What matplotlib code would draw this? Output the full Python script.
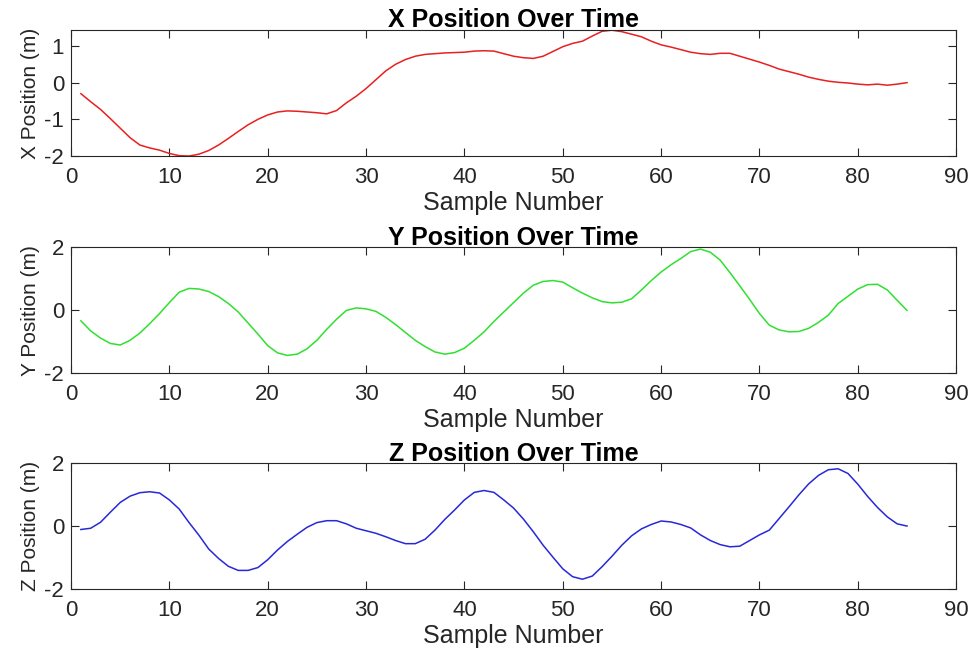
import numpy as np
import matplotlib
matplotlib.use('Agg')
import matplotlib.pyplot as plt

samples = np.arange(1, 86)

x_pos = [-0.30, -0.52, -0.73, -0.98, -1.24, -1.50, -1.70, -1.78, -1.84, -1.93,
         -1.99, -2.00, -1.95, -1.85, -1.70, -1.52, -1.33, -1.15, -1.00, -0.88,
         -0.80, -0.77, -0.78, -0.80, -0.82, -0.85, -0.76, -0.55, -0.37, -0.16,
         0.08, 0.32, 0.50, 0.63, 0.72, 0.77, 0.79, 0.81, 0.82, 0.83,
         0.86, 0.87, 0.86, 0.79, 0.72, 0.68, 0.66, 0.72, 0.85, 0.98,
         1.07, 1.13, 1.27, 1.40, 1.43, 1.39, 1.32, 1.25, 1.13, 1.03,
         0.97, 0.90, 0.83, 0.79, 0.77, 0.80, 0.80, 0.72, 0.64, 0.56,
         0.47, 0.37, 0.30, 0.23, 0.15, 0.09, 0.04, 0.01, -0.01, -0.04,
         -0.06, -0.04, -0.07, -0.04, 0.00]

y_pos = [-0.33, -0.65, -0.88, -1.05, -1.10, -0.95, -0.72, -0.42, -0.10, 0.25,
         0.58, 0.70, 0.68, 0.60, 0.44, 0.22, -0.05, -0.40, -0.75, -1.12,
         -1.35, -1.43, -1.39, -1.22, -0.95, -0.60, -0.28, 0.00, 0.08, 0.05,
         -0.03, -0.22, -0.45, -0.70, -0.95, -1.15, -1.32, -1.39, -1.34, -1.20,
         -0.95, -0.68, -0.35, -0.05, 0.25, 0.55, 0.80, 0.92, 0.95, 0.90,
         0.72, 0.55, 0.40, 0.28, 0.24, 0.26, 0.37, 0.65, 0.95, 1.22,
         1.45, 1.65, 1.87, 1.95, 1.85, 1.60, 1.20, 0.78, 0.35, -0.10,
         -0.47, -0.62, -0.68, -0.67, -0.57, -0.38, -0.15, 0.22, 0.45, 0.68,
         0.82, 0.83, 0.65, 0.32, 0.00]

z_pos = [-0.10, -0.06, 0.13, 0.45, 0.76, 0.96, 1.07, 1.10, 1.06, 0.84,
         0.55, 0.12, -0.28, -0.72, -1.02, -1.27, -1.40, -1.40, -1.31, -1.06,
         -0.75, -0.48, -0.25, -0.03, 0.12, 0.18, 0.18, 0.08, -0.06, -0.14,
         -0.22, -0.33, -0.45, -0.55, -0.55, -0.41, -0.12, 0.22, 0.52, 0.84,
         1.08, 1.14, 1.08, 0.84, 0.58, 0.23, -0.17, -0.60, -0.98, -1.35,
         -1.60, -1.68, -1.58, -1.28, -0.95, -0.60, -0.30, -0.08, 0.06, 0.17,
         0.14, 0.06, -0.05, -0.27, -0.45, -0.58, -0.65, -0.63, -0.45, -0.27,
         -0.12, 0.25, 0.62, 1.00, 1.35, 1.62, 1.80, 1.83, 1.68, 1.34,
         0.95, 0.60, 0.30, 0.08, 0.01]

plt.rcParams['font.family'] = ['Liberation Sans', 'DejaVu Sans']
plt.rcParams['axes.unicode_minus'] = False

axcol = '#262626'
fig = plt.figure(figsize=(9.77, 6.52), dpi=100)

# data, colour, name, yticks, ylim, axes bottom
panels = [
    (x_pos, '#e82020', 'X', [-2, -1, 0, 1], (min(x_pos), max(x_pos)), 0.7607),
    (y_pos, '#30e030', 'Y', [-2, 0, 2], (-2, 2), 0.4274),
    (z_pos, '#2828d8', 'Z', [-2, 0, 2], (-2, 2), 0.0962),
]

for data, col, name, yt, ylim, bottom in panels:
    ax = fig.add_axes([0.0727, bottom, 0.906, 0.193])
    ax.plot(samples, data, color=col, lw=1.1)
    ax.set_xlim(0, 90)
    ax.set_ylim(*ylim)
    ax.set_xticks(np.arange(0, 91, 10))
    ax.set_yticks(yt)
    ax.tick_params(direction='in', top=True, right=True, length=6,
                   width=0.8, colors=axcol, labelsize=16)
    ax.tick_params(axis='x', pad=8)
    ax.tick_params(axis='y', pad=5)
    for s in ax.spines.values():
        s.set_color(axcol)
        s.set_linewidth(0.8)
    ax.set_title(f'{name} Position Over Time', fontweight='bold',
                 fontsize=18, pad=2)
    ax.set_xlabel('Sample Number', color=axcol, fontsize=18, labelpad=2)
    ax.set_ylabel(f'{name} Position (m)', color=axcol, fontsize=15, labelpad=3)

fig.savefig('out.png', dpi=100)
